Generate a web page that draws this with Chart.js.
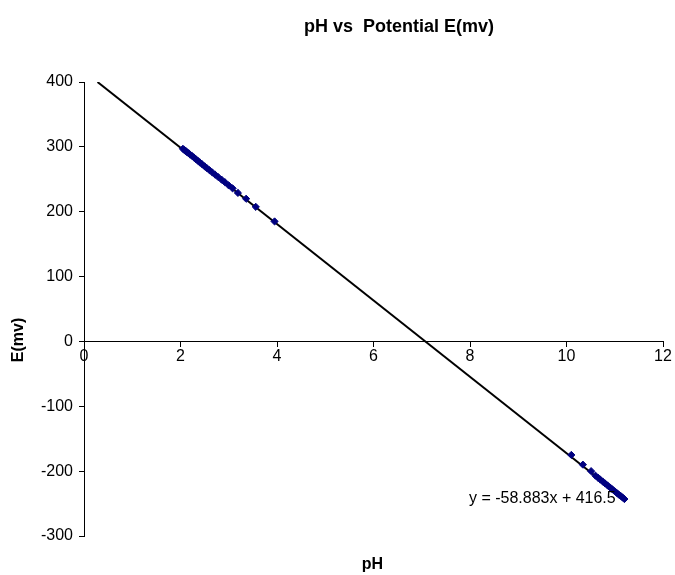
<html>
<head>
<script src="https://cdn.jsdelivr.net/npm/chart.js@4.4.0/dist/chart.umd.min.js"></script>
<style>
body {margin:0; background:#fff;}
#wrap {width:675px; height:575px;}
</style>
</head>
<body>
<div id="wrap"><canvas id="canvas" width="675" height="575"></canvas></div>
<script>
var phLow  = [2.05, 2.08, 2.11, 2.14, 2.17, 2.20, 2.24, 2.28, 2.32, 2.36, 2.40, 2.45, 2.50, 2.55, 2.60, 2.66, 2.72, 2.78, 2.85, 2.92, 3.00, 3.08, 3.19, 3.36, 3.56, 3.95];
var eLow   = [297, 295, 293.5, 291.5, 290, 288, 286, 283.5, 281, 278.5, 276, 273, 270, 267, 264, 260.5, 257, 253.5, 249.5, 245.5, 240.5, 236, 229, 220, 207.5, 185];
var phHigh = [10.10, 10.34, 10.51, 10.60, 10.65, 10.70, 10.75, 10.80, 10.85, 10.90, 10.95, 11.00, 11.04, 11.08, 11.12, 11.16, 11.20];
var eHigh  = [-175, -190, -200, -207, -210, -213, -216, -219, -222, -225, -228, -231, -233.5, -236, -238, -240.5, -243];

// trendline end points (y = -58.883x + 416.5)
var trendX = [0.28, 11.2];
var trendY = [400, -243];
var trendLabel = 'y = -58.883x + 416.5';
var trendLabelAt = [11.02, -243];

var xTicks = {min: 0, max: 12, step: 2};
var yTicks = {min: -300, max: 400, step: 100};

var chartTitle = 'pH vs  Potential E(mv)';
var xTitle = 'pH';
var yTitle = 'E(mv)';

function pairs(xs, ys) {
  var out = [];
  for (var i = 0; i < xs.length; i++) out.push({x: xs[i], y: ys[i]});
  return out;
}

var textPlugin = {
  id: 'texts',
  afterDraw: function(chart) {
    var c = chart.ctx;
    var a = chart.chartArea;
    c.save();
    c.fillStyle = '#000';
    c.textAlign = 'center';
    c.textBaseline = 'middle';
    c.font = 'bold 18px "Liberation Sans", Arial, sans-serif';
    c.fillText(chartTitle, 399, 27);
    c.font = 'bold 16px "Liberation Sans", Arial, sans-serif';
    c.fillText(xTitle, (a.left + a.right) / 2 - 1, 565);
    c.translate(19, 340);
    c.rotate(-Math.PI / 2);
    c.fillText(yTitle, 0, 0);
    c.restore();
    c.save();
    c.fillStyle = '#000';
    c.font = '16px "Liberation Sans", Arial, sans-serif';
    c.textAlign = 'right';
    c.textBaseline = 'middle';
    c.fillText(trendLabel, chart.scales.x.getPixelForValue(trendLabelAt[0]), chart.scales.y.getPixelForValue(trendLabelAt[1]));
    c.restore();
  }
};

var tickFont = {family: '"Liberation Sans", Arial, sans-serif', size: 16};
var ctx = document.getElementById('canvas').getContext('2d');
new Chart(ctx, {
  type: 'scatter',
  data: {
    datasets: [
      {
        label: 'E',
        data: pairs(phLow, eLow).concat(pairs(phHigh, eHigh)),
        pointStyle: 'rectRot',
        pointRadius: 3.6,
        backgroundColor: '#000080',
        borderColor: '#000080',
        borderWidth: 1
      },
      {
        label: 'trend',
        data: pairs(trendX, trendY),
        showLine: true,
        pointRadius: 0,
        borderColor: '#000',
        borderWidth: 2
      }
    ]
  },
  options: {
    responsive: false,
    animation: false,
    layout: {padding: {left: 0, top: 82, right: 12, bottom: 39}},
    plugins: {
      legend: {display: false},
      title: {display: false},
      tooltip: {enabled: false}
    },
    scales: {
      x: {
        type: 'linear',
        position: {y: 0},
        min: xTicks.min,
        max: xTicks.max,
        ticks: {stepSize: xTicks.step, color: '#000', font: tickFont, padding: 1, maxRotation: 0},
        grid: {drawOnChartArea: false, drawTicks: true, tickLength: 5, color: '#000'},
        border: {color: '#000', width: 1}
      },
      y: {
        type: 'linear',
        position: 'left',
        min: yTicks.min,
        max: yTicks.max,
        afterFit: function(scale) { scale.width = 84; },
        ticks: {stepSize: yTicks.step, color: '#000', font: tickFont, padding: 6},
        grid: {drawOnChartArea: false, drawTicks: true, tickLength: 5, color: '#000'},
        border: {color: '#000', width: 1}
      }
    }
  },
  plugins: [textPlugin]
});
</script>
</body>
</html>
